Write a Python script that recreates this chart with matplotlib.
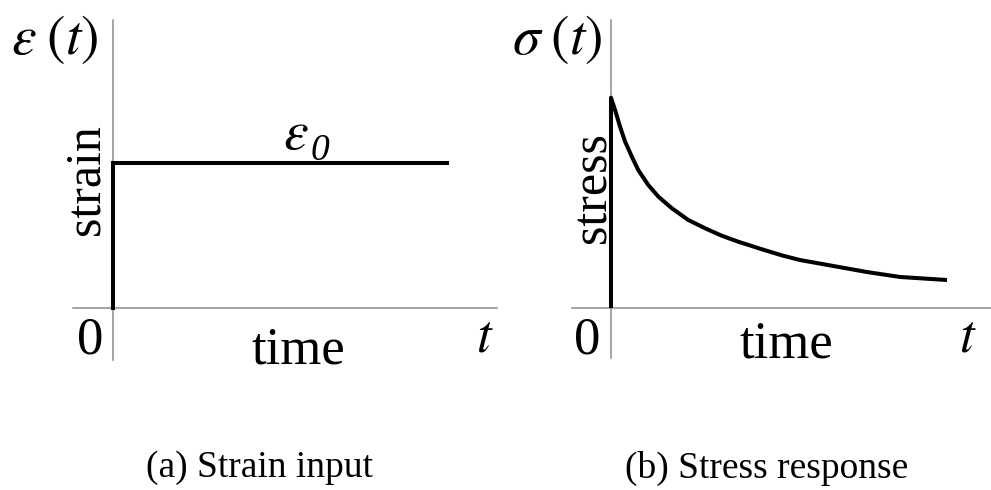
import matplotlib.pyplot as plt

plt.rcParams['font.family'] = ['Liberation Serif', 'DejaVu Serif']
plt.rcParams['mathtext.fontset'] = 'stix'

# strain input: step up to eps0 at t=0, held constant
strain_t = [0.0, 0.0, 1.0]
strain_v = [0.0, 1.0, 1.0]

# stress response
stress_t = [0.0, 0.0, 0.012, 0.027, 0.042, 0.062, 0.081, 0.111, 0.141,
            0.181, 0.230, 0.280, 0.329, 0.379, 0.449, 0.510, 0.562,
            0.661, 0.762, 0.860, 1.0]
stress_v = [0.0, 1.45, 1.366, 1.250, 1.147, 1.044, 0.952, 0.848, 0.768,
            0.688, 0.607, 0.550, 0.499, 0.457, 0.405, 0.362, 0.331,
            0.290, 0.248, 0.214, 0.193]

W, H = 991, 490
fig = plt.figure(figsize=(W / 100, H / 100), dpi=100)
fig.patch.set_facecolor('white')


def box(x0, y0, x1, y1):
    # pixel box -> figure fraction rect
    return [x0 / W, 1 - y1 / H, (x1 - x0) / W, (y1 - y0) / H]


def ftext(x, y, s, **kw):
    fig.text(x / W, 1 - y / H, s, ha='center', va='center', **kw)


def setup(ax, xlim, ylim):
    ax.set_xlim(*xlim)
    ax.set_ylim(*ylim)
    for side in ['top', 'right']:
        ax.spines[side].set_visible(False)
    ax.spines['left'].set_position(('data', 0))
    ax.spines['bottom'].set_position(('data', 0))
    for side in ['left', 'bottom']:
        ax.spines[side].set_color('#8c8c8c')
        ax.spines[side].set_linewidth(1.1)
    ax.set_xticks([])
    ax.set_yticks([])
    ax.patch.set_alpha(0)


ax1 = fig.add_axes(box(73, 20, 497, 360))
setup(ax1, (-40 / 334, 384 / 334), (-52 / 145, 288 / 145))
ax1.plot(strain_t, strain_v, color='black', lw=2.9, solid_joinstyle='miter',
         zorder=3, clip_on=False)

ax2 = fig.add_axes(box(572, 20, 991, 358))
setup(ax2, (-39 / 336, 380 / 336), (-50 / 145, 288 / 145))
ax2.plot(stress_t, stress_v, color='black', lw=2.9, solid_joinstyle='round',
         solid_capstyle='butt', zorder=3, clip_on=False)

# labels
ftext(55, 40, r'$\varepsilon\;(t)$', fontsize=40)
ftext(557, 40, r'$\sigma\;(t)$', fontsize=40)
ftext(296, 135, r'$\varepsilon$', fontsize=40)
ftext(320, 151, '0', fontsize=27, style='italic')
ftext(86, 180, 'strain', fontsize=36, rotation=90)
ftext(593, 188, 'stress', fontsize=36, rotation=90)
ftext(90, 340, '0', fontsize=38)
ftext(587, 340, '0', fontsize=38)
ftext(298, 350, 'time', fontsize=38)
ftext(786, 345, 'time', fontsize=38)
ftext(485, 338, r'$t$', fontsize=38)
ftext(968, 338, r'$t$', fontsize=38)
ftext(260, 468, '(a) Strain input', fontsize=27)
ftext(767, 468, '(b) Stress response', fontsize=27)

fig.savefig('out.png', dpi=100, facecolor='white')
